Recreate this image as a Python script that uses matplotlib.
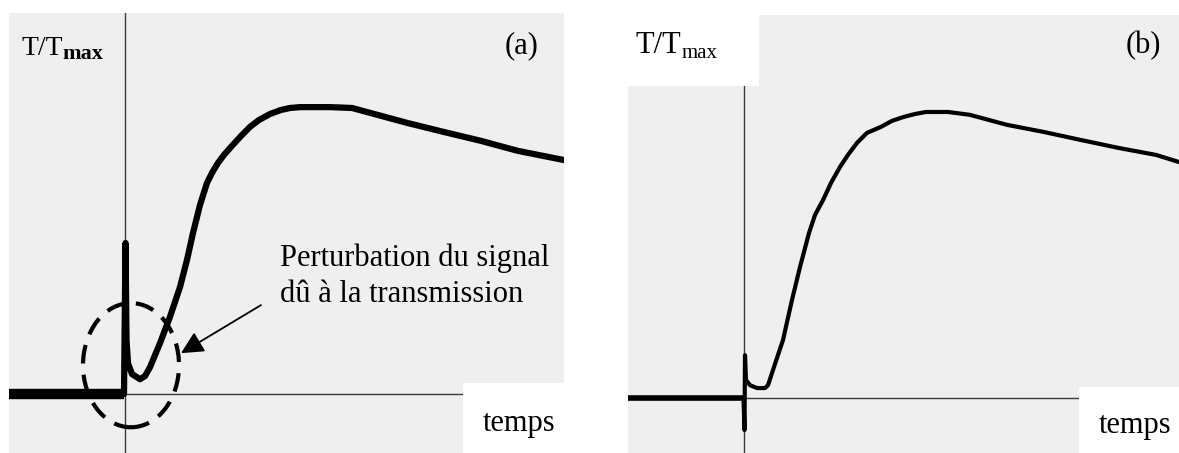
import matplotlib
matplotlib.use("Agg")
import matplotlib.pyplot as plt
from matplotlib.patches import Rectangle, Ellipse

# ---------------- data ----------------
# panel (a): temps (arb. units), T/Tmax
t_a = [-11.55, -0.05, 0.10, 0.20, 0.35, 0.75, 1.55, 2.05, 2.55, 3.55, 4.55, 5.55,
       6.25, 6.85, 7.55, 8.25, 8.75, 9.35, 9.95, 10.55, 11.65, 12.55, 13.45, 14.55,
       15.65, 16.55, 17.55, 20.55, 22.75, 24.55, 28.25, 31.95, 35.65, 39.35, 43.95]
T_a = [0.0, 0.0, 0.528, 0.189, 0.108, 0.070, 0.052, 0.063, 0.094, 0.178, 0.270, 0.374,
       0.469, 0.563, 0.661, 0.738, 0.773, 0.808, 0.836, 0.860, 0.902, 0.934, 0.958, 0.979,
       0.993, 1.000, 1.003, 1.003, 1.000, 0.983, 0.948, 0.916, 0.885, 0.850, 0.818]

# panel (b)
t_b = [-11.6, -0.05, 0.05, 0.10, 0.2, 0.6, 1.3, 2.1, 2.4, 2.9, 3.9, 4.8, 5.6, 6.5,
       7.1, 7.9, 8.7, 9.6, 10.4, 11.3, 12.3, 13.7, 14.8, 16.0, 17.1, 18.2, 20.4,
       22.6, 26.3, 30.0, 33.7, 37.5, 41.2, 43.5]
T_b = [0.0, 0.0, -0.112, 0.150, 0.063, 0.045, 0.035, 0.035, 0.045, 0.098, 0.203,
       0.343, 0.458, 0.577, 0.640, 0.692, 0.752, 0.808, 0.850, 0.892, 0.927, 0.948,
       0.969, 0.983, 0.993, 1.000, 1.000, 0.990, 0.955, 0.930, 0.902, 0.874, 0.850,
       0.825]

ylabel_main = "T/T"
ylabel_sub = "max"
xlabel = "temps"
panel_tags = ["(a)", "(b)"]
annot_lines = ["Perturbation du signal", "dû à la transmission"]

# ---------------- figure ----------------
W, H = 1179, 453
fig = plt.figure(figsize=(W / 100, H / 100), dpi=100)
fig.patch.set_facecolor("white")
SERIF = "Liberation Serif"
GREY = "#efefef"
AXC = "#3a3a3a"


def fx(px):
    return px / W


def fy(py):
    return 1 - py / H


def setup(ax, xlim, ylim):
    ax.set_facecolor(GREY)
    ax.set_xlim(*xlim)
    ax.set_ylim(*ylim)
    for s in ax.spines.values():
        s.set_visible(False)
    ax.set_xticks([])
    ax.set_yticks([])
    ax.axhline(0, color=AXC, lw=1.0, zorder=1)
    ax.axvline(0, color=AXC, lw=1.0, zorder=1)


# panel (a)
axa = fig.add_axes([fx(9), 0, fx(564) - fx(9), 440 / H])
setup(axa, (-11.55, 43.95), (-0.206, 1.332))
axa.plot(t_a, T_a, color="black", lw=4.5, solid_joinstyle="round", zorder=3)
axa.plot(t_a[:2], T_a[:2], color="black", lw=7.5, solid_capstyle="butt", zorder=3)
axa.add_patch(Rectangle((0.818, 0), 0.182, 0.159, transform=axa.transAxes,
                        facecolor="white", edgecolor="none", zorder=6))
ell = Ellipse((0.65, 0.101), 9.6, 0.434, fill=False, edgecolor="black",
              lw=3.0, linestyle=(0, (4.5, 2.7)), zorder=7)
axa.add_patch(ell)
axa.annotate("", xy=(5.65, 0.143), xytext=(13.65, 0.311),
             arrowprops=dict(arrowstyle="-|>", mutation_scale=34, lw=1.3,
                             color="black", shrinkA=0, shrinkB=0), zorder=8)

# panel (b)
axb = fig.add_axes([fx(628), 0, fx(1179) - fx(628), 438 / H])
setup(axb, (-11.6, 43.5), (-0.192, 1.339))
axb.plot(t_b, T_b, color="black", lw=3.0, solid_joinstyle="round", zorder=3)
axb.plot(t_b[:2], T_b[:2], color="black", lw=4.0, solid_capstyle="butt", zorder=3)
axb.add_patch(Rectangle((0.8185, 0), 0.1815, 0.1507, transform=axb.transAxes,
                        facecolor="white", edgecolor="none", zorder=6))
axb.add_patch(Rectangle((0, 0.838), 0.2377, 0.162, transform=axb.transAxes,
                        facecolor="white", edgecolor="none", zorder=6))

# ---------------- texts ----------------
# y labels
fig.text(fx(22), fy(55), ylabel_main, family=SERIF, fontsize=20, va="baseline")
fig.text(fx(62), fy(59), ylabel_sub, family=SERIF, fontsize=16, fontweight="bold",
         va="baseline")
fig.text(fx(635), fy(53), ylabel_main, family=SERIF, fontsize=22, va="baseline")
fig.text(fx(682), fy(58), ylabel_sub, family=SERIF, fontsize=15, va="baseline")

# x labels
fig.text(fx(483), fy(431), xlabel, family=SERIF, fontsize=22, va="baseline")
fig.text(fx(1099), fy(433), xlabel, family=SERIF, fontsize=22, va="baseline")

# panel tags
fig.text(fx(505), fy(53), panel_tags[0], family=SERIF, fontsize=22, va="baseline")
fig.text(fx(1126), fy(53), panel_tags[1], family=SERIF, fontsize=22, va="baseline")

# annotation text
fig.text(fx(280), fy(266), annot_lines[0], family=SERIF, fontsize=22, va="baseline")
fig.text(fx(280), fy(302), annot_lines[1], family=SERIF, fontsize=22, va="baseline")

fig.savefig("out.png", dpi=100, facecolor="white")
